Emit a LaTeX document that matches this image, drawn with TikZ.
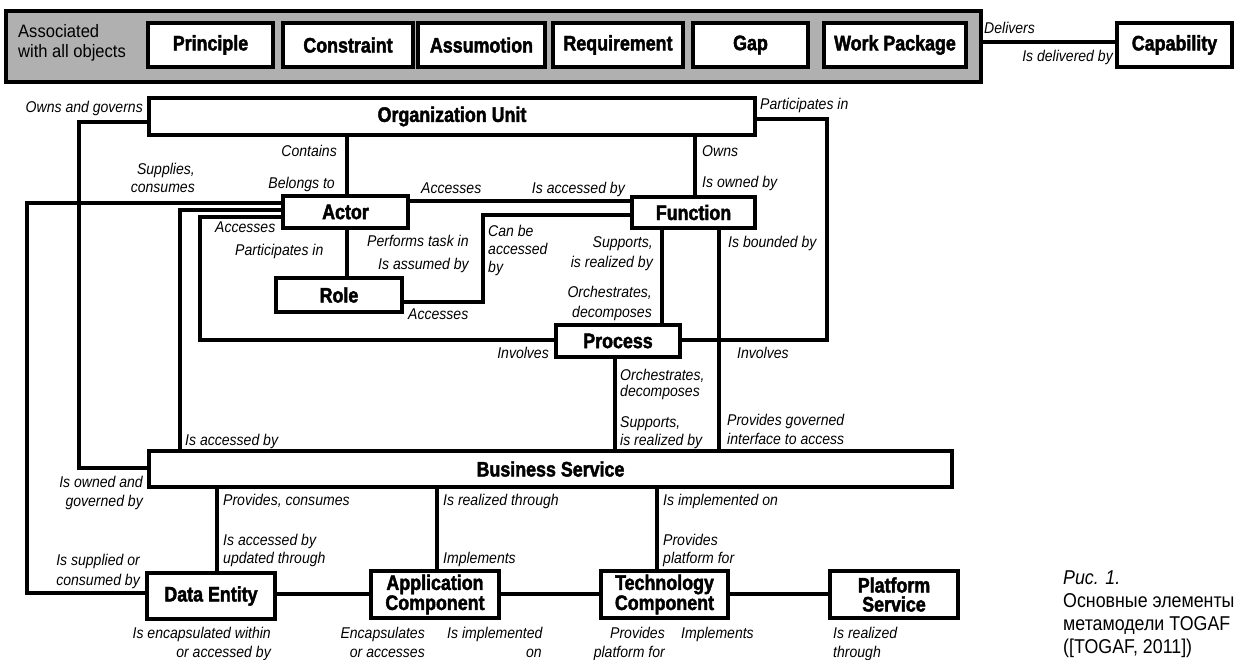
\documentclass[tikz,border=0pt]{standalone}
\usepackage{fontspec}
\setmainfont{Liberation Sans}[FakeStretch=0.9]
\newfontfamily\boxfont{Liberation Sans}[FakeStretch=0.85,FakeBold=2]
\newfontfamily\regfont{Liberation Sans}[FakeStretch=0.92]
\newfontfamily\captfont{Liberation Sans}[FakeStretch=0.89]
\definecolor{bandgray}{RGB}{176,176,176}
\newcounter{lbc}
\newcommand\lab[4]{\stepcounter{lbc}\node[lbl,anchor=#3] (lb\arabic{lbc}) at (#1,#2) {#4};}
\tikzset{
  conn/.style={line width=3.2pt},
  ent/.style={draw, line width=3.2pt, fill=white, inner sep=0pt, align=center,
    font=\boxfont\bfseries\fontsize{21}{19}\selectfont},
  lbl/.style={inner sep=0pt, font=\itshape\fontsize{15.6}{18}\selectfont},
  reg/.style={inner sep=0pt, font=\regfont\fontsize{18}{20}\selectfont},
  capt/.style={inner sep=0pt, anchor=base west, font=\captfont\fontsize{20}{24}\selectfont},
}
\begin{document}
\begin{tikzpicture}[x=1pt,y=-1pt]
\useasboundingbox (0,0) rectangle (1235,660);
% top band
\node[draw, fill=bandgray, line width=3.2pt, inner sep=0pt, minimum width=975, minimum height=71] (common) at (493.5,46.5) {};
\node[reg, anchor=base west] (assoc1) at (18,38) {Associated};
\node[reg, anchor=base west] (assoc2) at (18,58) {with all objects};
\node[ent, minimum width=125, minimum height=44] (principle) at (210.5,45) {Principle};
\node[ent, minimum width=130, minimum height=44] (constraint) at (348,45) {Constraint};
\node[ent, minimum width=127, minimum height=44] (assumption) at (481.5,45) {Assumotion};
\node[ent, minimum width=130, minimum height=44] (requirement) at (618,45) {Requirement};
\node[ent, minimum width=115, minimum height=44] (gap) at (750.5,45) {Gap};
\node[ent, minimum width=142, minimum height=44] (wp) at (895,45) {Work Package};
\node[ent, minimum width=115, minimum height=44] (cap) at (1174.5,45) {Capability};
% main entities
\node[ent, minimum width=606, minimum height=37] (ou) at (452,116.5) {Organization Unit};
\node[ent, minimum width=125, minimum height=32] (actor) at (345.5,212) {Actor};
\node[ent, minimum width=123, minimum height=31] (func) at (693.5,212.5) {Function};
\node[ent, minimum width=126, minimum height=34] (role) at (339,295) {Role};
\node[ent, minimum width=124, minimum height=32] (proc) at (618,341) {Process};
\node[ent, minimum width=803, minimum height=36] (bs) at (550.5,469) {Business Service};
\node[ent, minimum width=128, minimum height=46] (de) at (211,596) {Data Entity};
\node[ent, minimum width=128, minimum height=47] (ac) at (435,594.5) {Application\\Component};
\node[ent, minimum width=127, minimum height=47] (tc) at (664.5,594.5) {Technology\\Component};
\node[ent, minimum width=128, minimum height=47] (ps) at (894,594.5) {Platform\\Service};
% connectors
\coordinate (cl) at (0,42);
\draw[conn] (common.east |- cl) -- (cap.west |- cl);
\coordinate (xa) at (347,0);
\draw[conn] (xa |- ou.south) -- (xa |- actor.north);
\draw[conn] (xa |- actor.south) -- (xa |- role.north);
\coordinate (xf) at (695,0);
\draw[conn] (xf |- ou.south) -- (xf |- func.north);
\coordinate (w1) at (79,122); \coordinate (w2) at (79,468);
\draw[conn] (ou.west |- w1) -- (w1) -- (w2) -- (bs.west |- w2);
\coordinate (e1) at (827,119); \coordinate (e2) at (827,340);
\draw[conn] (ou.east |- e1) -- (e1) -- (e2) -- (proc.east |- e2);
\coordinate (af) at (0,201);
\draw[conn] (actor.east |- af) -- (func.west |- af);
\coordinate (g1) at (27,203); \coordinate (g2) at (27,593);
\draw[conn] (actor.west |- g1) -- (g1) -- (g2) -- (de.west |- g2);
\coordinate (h1) at (180,210);
\draw[conn] (actor.west |- h1) -- (h1) -- (h1 |- bs.north);
\coordinate (i1) at (200,217); \coordinate (i2) at (200,340);
\draw[conn] (actor.west |- i1) -- (i1) -- (i2) -- (proc.west |- i2);
\coordinate (j1) at (483,215); \coordinate (j2) at (483,302);
\draw[conn] (func.west |- j1) -- (j1) -- (j2) -- (role.east |- j2);
\coordinate (vk) at (662,0);
\draw[conn] (vk |- func.south) -- (vk |- proc.north);
\coordinate (vl) at (719,0);
\draw[conn] (vl |- func.south) -- (vl |- bs.north);
\coordinate (vm) at (615,0);
\draw[conn] (vm |- proc.south) -- (vm |- bs.north);
\coordinate (vn1) at (217,0);
\draw[conn] (vn1 |- bs.south) -- (vn1 |- de.north);
\coordinate (vn2) at (437,0);
\draw[conn] (vn2 |- bs.south) -- (vn2 |- ac.north);
\coordinate (vn3) at (657,0);
\draw[conn] (vn3 |- bs.south) -- (vn3 |- tc.north);
\coordinate (hb) at (0,594);
\draw[conn] (de.east |- hb) -- (ac.west |- hb);
\draw[conn] (ac.east |- hb) -- (tc.west |- hb);
\draw[conn] (tc.east |- hb) -- (ps.west |- hb);
% labels
\lab{984}{34}{base west}{Delivers}
\lab{1113}{62}{base east}{Is delivered by}
\lab{143}{113}{base east}{Owns and governs}
\lab{760}{110}{base west}{Participates in}
\lab{337}{157}{base east}{Contains}
\lab{335}{189}{base east}{Belongs to}
\lab{195}{175}{base east}{Supplies,}
\lab{195}{193}{base east}{consumes}
\lab{702}{157}{base west}{Owns}
\lab{702}{188}{base west}{Is owned by}
\lab{421}{194}{base west}{Accesses}
\lab{625}{194}{base east}{Is accessed by}
\lab{215}{233}{base west}{Accesses}
\lab{235}{256}{base west}{Participates in}
\lab{367}{247}{base west}{Performs task in}
\lab{378}{270}{base west}{Is assumed by}
\lab{488}{237}{base west}{Can be}
\lab{488}{255}{base west}{accessed}
\lab{488}{273}{base west}{by}
\lab{653}{248}{base east}{Supports,}
\lab{653}{268}{base east}{is realized by}
\lab{728}{248}{base west}{Is bounded by}
\lab{652}{298}{base east}{Orchestrates,}
\lab{652}{318}{base east}{decomposes}
\lab{408}{320}{base west}{Accesses}
\lab{549}{359}{base east}{Involves}
\lab{737}{359}{base west}{Involves}
\lab{620}{381}{base west}{Orchestrates,}
\lab{620}{396}{base west}{decomposes}
\lab{620}{428}{base west}{Supports,}
\lab{620}{445}{base west}{is realized by}
\lab{727}{425}{base west}{Provides governed}
\lab{727}{444}{base west}{interface to access}
\lab{185}{445}{base west}{Is accessed by}
\lab{143}{487}{base east}{Is owned and}
\lab{143}{506}{base east}{governed by}
\lab{223}{505}{base west}{Provides, consumes}
\lab{443}{505}{base west}{Is realized through}
\lab{663}{505}{base west}{Is implemented on}
\lab{223}{545}{base west}{Is accessed by}
\lab{223}{563}{base west}{updated through}
\lab{443}{563}{base west}{Implements}
\lab{663}{545}{base west}{Provides}
\lab{663}{563}{base west}{platform for}
\lab{140}{565}{base east}{Is supplied or}
\lab{140}{585}{base east}{consumed by}
\lab{271}{638}{base east}{Is encapsulated within}
\lab{271}{657}{base east}{or accessed by}
\lab{425}{638}{base east}{Encapsulates}
\lab{425}{657}{base east}{or accesses}
\lab{447}{638}{base west}{Is implemented}
\lab{542}{657}{base east}{on}
\lab{665}{638}{base east}{Provides}
\lab{665}{657}{base east}{platform for}
\lab{681}{638}{base west}{Implements}
\lab{833}{638}{base west}{Is realized}
\lab{833}{657}{base west}{through}
% caption
\node[capt] (cap1) at (1063,584) {\itshape Рис. 1.};
\node[capt] (cap2) at (1063,607) {Основные элементы};
\node[capt] (cap3) at (1063,630) {метамодели TOGAF};
\node[capt] (cap4) at (1063,653) {([TOGAF, 2011])};
\end{tikzpicture}
\end{document}
